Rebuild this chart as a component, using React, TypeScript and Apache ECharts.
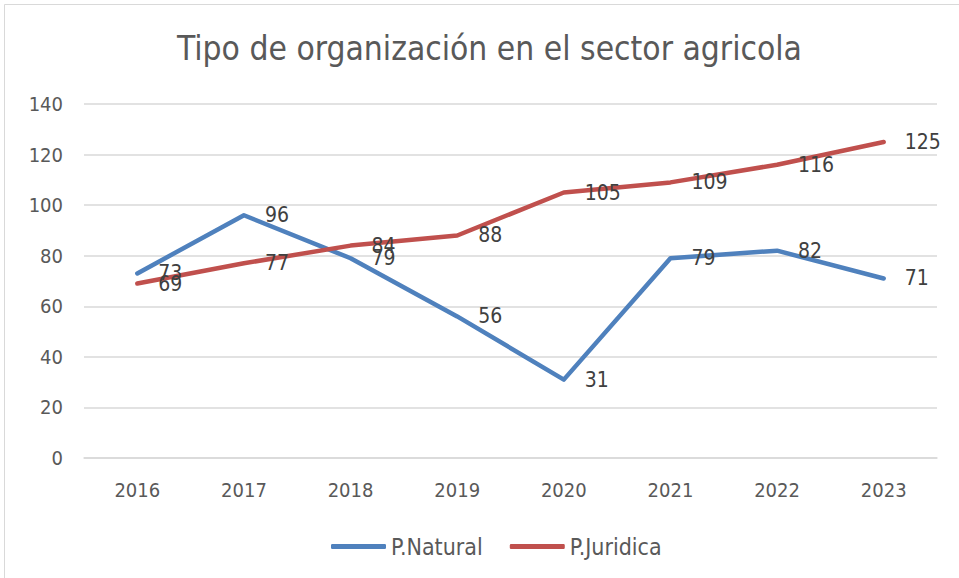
import React, { useEffect, useRef } from "react";
import * as echarts from "echarts";

const categories = ["2016", "2017", "2018", "2019", "2020", "2021", "2022", "2023"];
const natural = [73, 96, 79, 56, 31, 79, 82, 71];
const juridica = [69, 77, 84, 88, 105, 109, 116, 125];
const titleText = "Tipo de organización en el sector agricola";
const FONT = "'Liberation Sans Narrow', 'DejaVu Sans Condensed', 'Noto Sans', sans-serif";

export default function App() {
  const ref = useRef<HTMLDivElement>(null);
  useEffect(() => {
    document.body.style.margin = "0";
    const chart = echarts.init(ref.current!, null, { renderer: "svg" });
    const label = {
      show: true,
      position: "right",
      distance: 20,
      color: "#404040",
      fontSize: 21,
      fontFamily: FONT,
    };
    chart.setOption({
      animation: false,
      backgroundColor: "#fff",
      title: {
        text: titleText,
        left: 172,
        top: 27,
        textStyle: { fontFamily: FONT, fontSize: 33.3, fontWeight: "normal", color: "#595959" },
      },
      graphic: [
        {
          type: "rect",
          shape: { x: 4.5, y: 4.5, width: 970, height: 580 },
          style: { fill: "none", stroke: "#d9d9d9", lineWidth: 1 },
          silent: true,
        },
      ],
      grid: { left: 84, right: 22, top: 104, bottom: 120 },
      legend: {
        top: 530,
        left: 326,
        itemWidth: 55,
        itemHeight: 5,
        itemGap: 27,
        icon: "roundRect",
        textStyle: { fontFamily: FONT, fontSize: 23, color: "#595959" },
        data: ["P.Natural", "P.Juridica"],
      },
      xAxis: {
        type: "category",
        data: categories,
        boundaryGap: true,
        axisLine: { lineStyle: { color: "#d9d9d9", width: 1.5 } },
        axisTick: { show: false },
        axisLabel: { margin: 22, color: "#595959", fontSize: 20, fontFamily: FONT },
      },
      yAxis: {
        type: "value",
        min: 0,
        max: 140,
        interval: 20,
        axisLine: { show: false },
        axisTick: { show: false },
        splitLine: { lineStyle: { color: "#d9d9d9", width: 1.5 } },
        axisLabel: { margin: 21, color: "#595959", fontSize: 20, fontFamily: FONT },
      },
      series: [
        {
          name: "P.Natural",
          type: "line",
          data: natural,
          symbol: "circle",
          symbolSize: 2,
          showSymbol: true,
          itemStyle: { color: "#4f81bd" },
          color: "#4f81bd",
          lineStyle: { width: 4.5, color: "#4f81bd", cap: "round", join: "round" },
          label,
        },
        {
          name: "P.Juridica",
          type: "line",
          data: juridica,
          symbol: "circle",
          symbolSize: 2,
          showSymbol: true,
          itemStyle: { color: "#c0504d" },
          color: "#c0504d",
          lineStyle: { width: 4.5, color: "#c0504d", cap: "round", join: "round" },
          label,
        },
      ],
    });
    return () => chart.dispose();
  }, []);
  return <div ref={ref} style={{ width: 959, height: 578 }} />;
}
